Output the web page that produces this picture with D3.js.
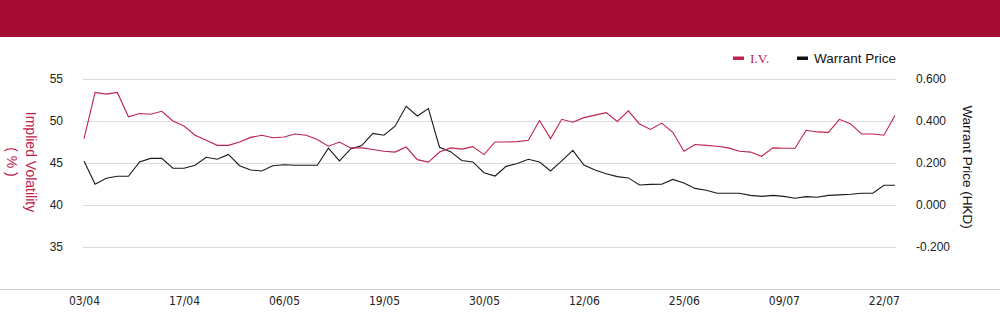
<!DOCTYPE html>
<html>
<head>
<meta charset="utf-8">
<script src="https://cdn.jsdelivr.net/npm/d3@7"></script>
<style>
  html, body { margin: 0; padding: 0; background: #fff; }
  svg { display: block; }
</style>
</head>
<body>
<svg id="chart" width="1000" height="324"></svg>
<script>
const categories = ["03/04","07/04","08/04","09/04","10/04","11/04","14/04","15/04","16/04","17/04",
  "22/04","23/04","24/04","25/04","28/04","29/04","30/04","02/05","06/05","07/05",
  "08/05","09/05","12/05","13/05","14/05","15/05","16/05","19/05","20/05","21/05",
  "22/05","23/05","26/05","27/05","28/05","29/05","30/05","02/06","03/06","04/06",
  "05/06","06/06","09/06","10/06","11/06","12/06","13/06","16/06","17/06","18/06",
  "19/06","20/06","23/06","24/06","25/06","26/06","27/06","30/06","02/07","03/07",
  "04/07","07/07","08/07","09/07","10/07","11/07","14/07","15/07","16/07","17/07",
  "18/07","21/07","22/07","23/07"];

const ivValues = [47.9,53.4,53.2,53.4,50.5,50.9,50.8,51.15,50.0,49.4,
  48.3,47.7,47.1,47.1,47.5,48.05,48.3,48.0,48.1,48.45,
  48.3,47.8,47.0,47.5,46.8,46.8,46.6,46.4,46.3,46.9,
  45.4,45.1,46.3,46.8,46.65,46.95,46.0,47.5,47.5,47.55,
  47.7,50.05,47.9,50.2,49.85,50.4,50.7,51.0,49.95,51.2,
  49.65,49.0,49.75,48.65,46.4,47.2,47.1,47.0,46.8,46.4,
  46.3,45.8,46.8,46.75,46.75,48.9,48.7,48.65,50.2,49.65,
  48.45,48.45,48.3,50.65];

const priceValues = [0.210,0.099,0.127,0.137,0.137,0.205,0.222,0.222,0.175,0.175,
  0.189,0.227,0.218,0.241,0.187,0.167,0.162,0.187,0.192,0.189,
  0.189,0.189,0.271,0.210,0.267,0.283,0.341,0.332,0.375,0.470,
  0.424,0.459,0.275,0.254,0.212,0.205,0.154,0.138,0.184,0.198,
  0.218,0.205,0.162,0.210,0.260,0.190,0.167,0.149,0.135,0.129,
  0.095,0.098,0.099,0.122,0.105,0.079,0.070,0.056,0.056,0.056,
  0.046,0.041,0.046,0.041,0.032,0.040,0.037,0.046,0.048,0.051,
  0.056,0.056,0.094,0.094];

const tickLabels = ["03/04","17/04","06/05","19/05","30/05","12/06","25/06","09/07","22/07"];
const leftTicks = [35,40,45,50,55];
const rightTicks = [-0.2,0,0.2,0.4,0.6];

const svg = d3.select("#chart");
const W = 1000, H = 324;
const RED = "#a50d34";
const IVCOL = "#c0224b";

// header band
svg.append("rect").attr("x",0).attr("y",0).attr("width",W).attr("height",37).attr("fill",RED);

const x = d3.scalePoint().domain(categories).range([84, 895]);
const yL = d3.scaleLinear().domain([30, 60]).range([289, 37]);
const yR = d3.scaleLinear().domain([-0.4, 0.8]).range([289, 37]);

// gridlines
svg.append("g").selectAll("line").data(leftTicks).join("line")
  .attr("x1",83).attr("x2",896)
  .attr("y1",d=>yL(d)+0.5).attr("y2",d=>yL(d)+0.5)
  .attr("stroke","#dcdcdc").attr("stroke-width",1);

// bottom baseline across full width
svg.append("line").attr("x1",0).attr("x2",W)
  .attr("y1",yL(30)+0.5).attr("y2",yL(30)+0.5)
  .attr("stroke","#cccccc").attr("stroke-width",1);

// left axis labels
const leftAxis = d3.axisLeft(yL).tickValues(leftTicks).tickSize(0).tickPadding(0);
const gL = svg.append("g").attr("transform","translate(63,0)").call(leftAxis);
gL.select(".domain").remove();
gL.selectAll("text").attr("font-family","'Liberation Sans', Arial, sans-serif")
  .attr("font-size","12px").attr("fill","#222");

// right axis labels
const rightAxis = d3.axisRight(yR).tickValues(rightTicks).tickSize(0).tickPadding(0)
  .tickFormat(d3.format(".3f"));
const gR = svg.append("g").attr("transform","translate(916,0)").call(rightAxis);
gR.select(".domain").remove();
gR.selectAll("text").attr("font-family","'Liberation Sans', Arial, sans-serif")
  .attr("font-size","12px").attr("fill","#222")
  .text(d => d3.format(".3f")(d).replace("−","-"));

// x axis labels
const xAxis = d3.axisBottom(x).tickValues(tickLabels).tickSize(0).tickPadding(0);
const gX = svg.append("g").attr("transform","translate(0,296)").call(xAxis);
gX.select(".domain").remove();
gX.selectAll("text").attr("font-family","'DejaVu Sans Condensed', 'Liberation Sans Narrow', 'Liberation Sans', sans-serif")
  .attr("font-size","12px").attr("fill","#222");

// lines
const ivLine = d3.line().x((d,i)=>x(categories[i])).y(d=>yL(d));
const prLine = d3.line().x((d,i)=>x(categories[i])).y(d=>yR(d));
svg.append("path").datum(priceValues).attr("d",prLine)
  .attr("fill","none").attr("stroke","#1a1a1a").attr("stroke-width",1.1);
svg.append("path").datum(ivValues).attr("d",ivLine)
  .attr("fill","none").attr("stroke",IVCOL).attr("stroke-width",1.1);

// axis titles
const lt = svg.append("text")
  .attr("transform","translate(26,162) rotate(90)")
  .attr("text-anchor","middle")
  .attr("font-family","'Liberation Sans', Arial, sans-serif")
  .attr("font-size","14px").attr("fill",IVCOL);
lt.append("tspan").attr("x",0).attr("dy",0).text("Implied Volatility");
lt.append("tspan").attr("x",0).attr("dy",19).text("( % )");

svg.append("text")
  .attr("transform","translate(963,167) rotate(90)")
  .attr("text-anchor","middle")
  .attr("font-family","'Liberation Sans', Arial, sans-serif")
  .attr("font-size","13.5px").attr("fill","#111")
  .text("Warrant Price (HKD)");

// legend
const legend = [
  {name:"I.V.", color:IVCOL, mx:733, tx:750, font:"'Liberation Serif', serif", fill:IVCOL},
  {name:"Warrant Price", color:"#111", mx:797, tx:814, font:"'Liberation Sans', Arial, sans-serif", fill:"#111"}
];
const lg = svg.append("g");
lg.selectAll("rect").data(legend).join("rect")
  .attr("x",d=>d.mx).attr("y",56.5).attr("width",11).attr("height",3.5).attr("fill",d=>d.color);
lg.selectAll("text").data(legend).join("text")
  .attr("x",d=>d.tx).attr("y",63)
  .attr("font-family",d=>d.font).attr("font-size","13.5px").attr("fill",d=>d.fill)
  .text(d=>d.name);
</script>
</body>
</html>
